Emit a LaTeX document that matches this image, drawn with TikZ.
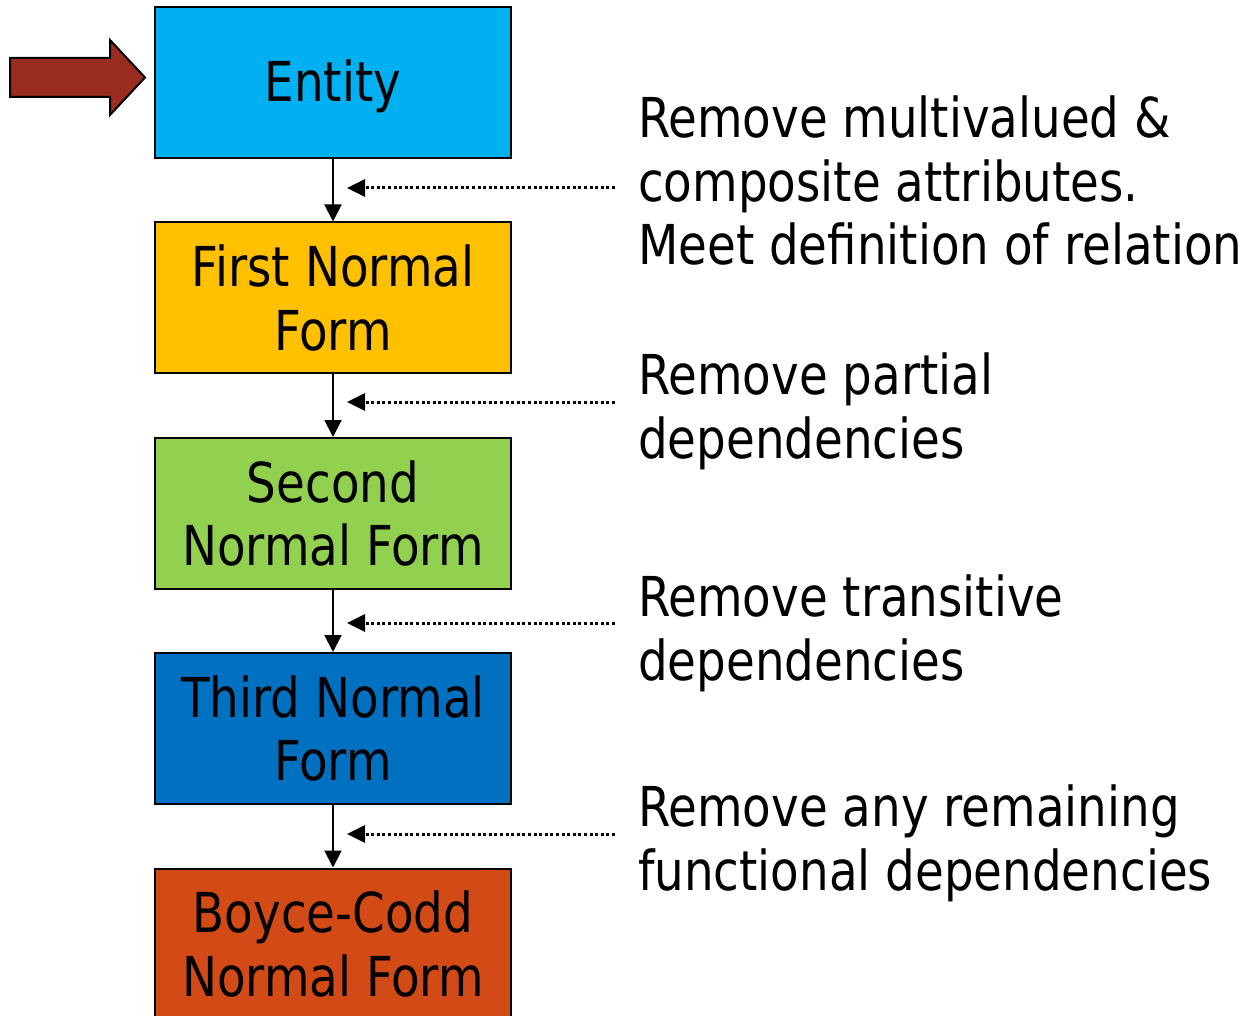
\documentclass[tikz,border=0pt]{standalone}
\usepackage{fontspec}
\setmainfont[FakeStretch=0.85]{DejaVu Sans}
\usetikzlibrary{arrows.meta}
\definecolor{entityc}{HTML}{00B0F0}
\definecolor{firstc}{HTML}{FFC000}
\definecolor{secondc}{HTML}{92D050}
\definecolor{thirdc}{HTML}{0070C0}
\definecolor{bcnfc}{HTML}{D24A16}
\definecolor{pointerc}{HTML}{9B2D20}
\tikzset{
  formbox/.style={draw=black, line width=2pt, minimum width=356pt, minimum height=151pt,
    inner sep=0pt, align=center, font=\fontsize{55}{63.5}\selectfont},
  stepline/.style={line width=2pt, -{Triangle[length=17pt,width=17pt]}},
  hintline/.style={line width=3pt, dash pattern=on 3pt off 2.6pt, -{Triangle[length=18pt,width=17pt]}},
  hinttext/.style={anchor=base west, align=left, inner sep=0pt, font=\fontsize{55}{63.5}\selectfont}
}
\begin{document}
\begin{tikzpicture}[x=1pt,y=-1pt]
\useasboundingbox (0,0) rectangle (1259,1016);
\begin{scope}
\clip (0,0) rectangle (1259,1016);
% normal-form boxes
\node[formbox, fill=entityc, text height=48pt] (entity) at (333,83) {Entity};
\node[formbox, fill=firstc] (first) at (333,298) {First Normal\\Form};
\node[formbox, fill=secondc] (second) at (333,513.5) {Second\\Normal Form};
\node[formbox, fill=thirdc] (third) at (333,728.5) {Third Normal\\Form};
\node[formbox, fill=bcnfc] (bcnf) at (333,944) {Boyce-Codd\\Normal Form};
\end{scope}
% progression arrows
\draw[stepline] (entity.south) -- (first.north);
\draw[stepline] (first.south) -- (second.north);
\draw[stepline] (second.south) -- (third.north);
\draw[stepline] (third.south) -- (bcnf.north);
% descriptions of each step (anchored at the last line's baseline)
\node[hinttext] (t1) at (638,265) {Remove multivalued \&\\composite attributes.\\Meet definition of relation};
\node[hinttext] (t2) at (638,458) {Remove partial\\dependencies};
\node[hinttext] (t3) at (638,680) {Remove transitive\\dependencies};
\node[hinttext] (t4) at (638,890) {Remove any remaining\\functional dependencies};
% dotted pointers from descriptions to the arrows
\coordinate (h1s) at (615,188); \coordinate (h1e) at (347,188);
\coordinate (h2s) at (615,402); \coordinate (h2e) at (347,402);
\coordinate (h3s) at (615,623); \coordinate (h3e) at (347,623);
\coordinate (h4s) at (615,834); \coordinate (h4e) at (347,834);
\draw[hintline] (h1s) -- (h1e);
\draw[hintline] (h2s) -- (h2e);
\draw[hintline] (h3s) -- (h3e);
\draw[hintline] (h4s) -- (h4e);
% block arrow pointing at the current stage
\draw[fill=pointerc, line width=2pt, line join=miter]
  (10,58) -- (110,58) -- (110,40) -- (145,77.5) -- (110,115) -- (110,97) -- (10,97) -- cycle;
\end{tikzpicture}
\end{document}
